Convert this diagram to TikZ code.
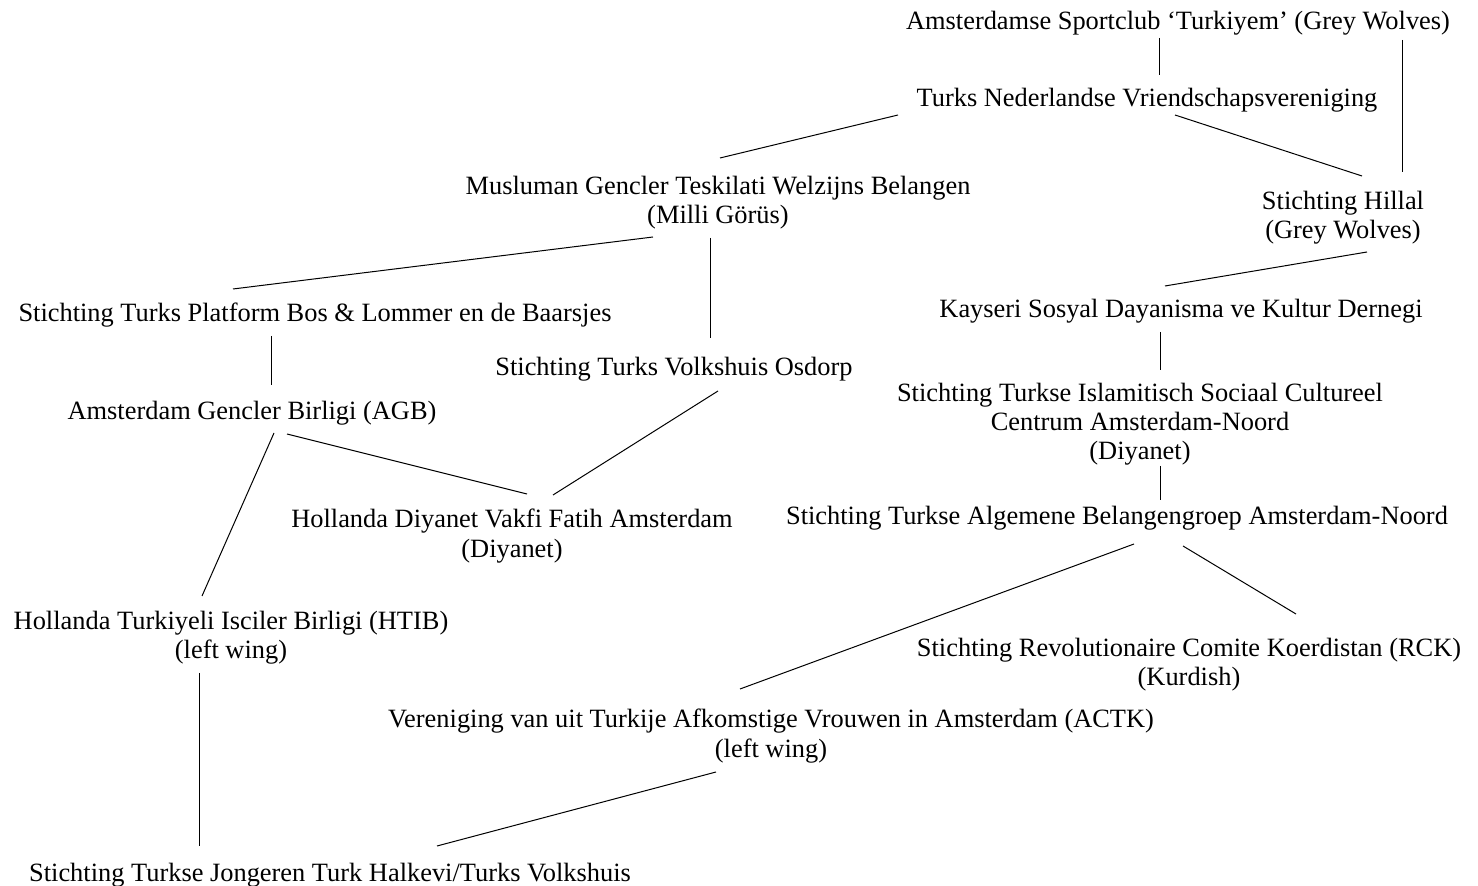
\documentclass[tikz,border=0pt]{standalone}
\usepackage{fontspec}
\setmainfont{Liberation Serif}
\usepackage{tikz}
\usetikzlibrary{calc}
\tikzset{
org/.style={
  align=center,
  inner sep=0pt,
  font=\fontsize{13.2}{14.6}\selectfont
},
link/.style={
  draw=black,
  line width=0.5pt
}
}
\begin{document}
\begin{tikzpicture}[x=0.5pt, y=-0.5pt]
  \useasboundingbox (0,0) rectangle (1478,886);

  % organisations
  \node[org] (sport) at (1178,23) {Amsterdamse Sportclub ‘Turkiyem’ (Grey Wolves)};
  \node[org] (tnv) at (1147,100) {Turks Nederlandse Vriendschapsvereniging};
  \node[org] (mgt) at (718,203) {Musluman Gencler Teskilati Welzijns Belangen\\(Milli Görüs)};
  \node[org] (hillal) at (1343,218) {Stichting Hillal\\(Grey Wolves)};
  \node[org] (platform) at (315,315) {Stichting Turks Platform Bos \& Lommer en de Baarsjes};
  \node[org] (kayseri) at (1181,311) {Kayseri Sosyal Dayanisma ve Kultur Dernegi};
  \node[org] (volkshuis) at (674,369) {Stichting Turks Volkshuis Osdorp};
  \node[org] (agb) at (252,413) {Amsterdam Gencler Birligi (AGB)};
  \node[org] (islam) at (1140,424) {Stichting Turkse Islamitisch Sociaal Cultureel\\Centrum Amsterdam-Noord\\(Diyanet)};
  \node[org] (fatih) at (512,536) {Hollanda Diyanet Vakfi Fatih Amsterdam\\(Diyanet)};
  \node[org] (algemene) at (1117,518) {Stichting Turkse Algemene Belangengroep Amsterdam-Noord};
  \node[org] (htib) at (231,638) {Hollanda Turkiyeli Isciler Birligi (HTIB)\\(left wing)};
  \node[org] (rck) at (1189,665) {Stichting Revolutionaire Comite Koerdistan (RCK)\\(Kurdish)};
  \node[org] (actk) at (771,736) {Vereniging van uit Turkije Afkomstige Vrouwen in Amsterdam (ACTK)\\(left wing)};
  \node[org] (jongeren) at (330,875) {Stichting Turkse Jongeren Turk Halkevi/Turks Volkshuis};

  % links
  \draw[link] ($(sport)+(-19,15)$) -- ($(tnv)+(12,-25)$);
  \draw[link] ($(sport)+(224,17)$) -- ($(hillal)+(59,-46)$);
  \draw[link] ($(tnv)+(-249,15)$) -- ($(mgt)+(2,-45)$);
  \draw[link] ($(tnv)+(28,15)$) -- ($(hillal)+(19,-42)$);
  \draw[link] ($(mgt)+(-65,34)$) -- ($(platform)+(-82,-26)$);
  \draw[link] ($(mgt)+(-8,35)$) -- ($(volkshuis)+(36,-31)$);
  \draw[link] ($(hillal)+(24,34)$) -- ($(kayseri)+(-16,-25)$);
  \draw[link] ($(platform)+(-44,21)$) -- ($(agb)+(19,-28)$);
  \draw[link] ($(kayseri)+(-21,21)$) -- ($(islam)+(20,-54)$);
  \draw[link] ($(volkshuis)+(44,22)$) -- ($(fatih)+(41,-41)$);
  \draw[link] ($(agb)+(35,21)$) -- ($(fatih)+(15,-42)$);
  \draw[link] ($(agb)+(22,20)$) -- ($(htib)+(-29,-42)$);
  \draw[link] ($(islam)+(20,42)$) -- ($(algemene)+(43,-18)$);
  \draw[link] ($(algemene)+(66,28)$) -- ($(rck)+(107,-51)$);
  \draw[link] ($(algemene)+(17,26)$) -- ($(actk)+(-31,-47)$);
  \draw[link] ($(htib)+(-32,35)$) -- ($(jongeren)+(-131,-29)$);
  \draw[link] ($(actk)+(-55,36)$) -- ($(jongeren)+(107,-29)$);
\end{tikzpicture}
\end{document}
